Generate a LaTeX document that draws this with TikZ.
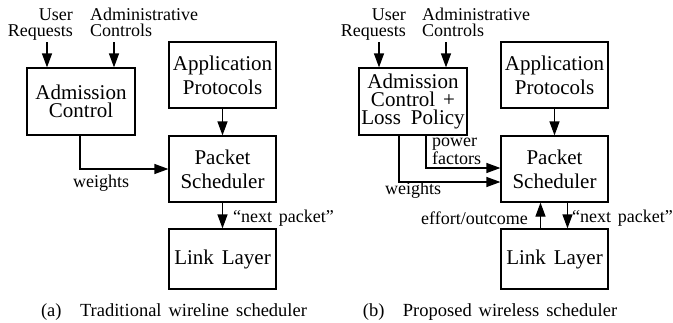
\documentclass[tikz,border=0pt]{standalone}
\usepackage{fontspec}
\setmainfont{Liberation Serif}[WordSpace=1.5]
\usetikzlibrary{arrows.meta}
\begin{document}
\begin{tikzpicture}[x=1pt,y=-1pt,
  box/.style={draw, line width=1.2pt, minimum width=107pt, minimum height=66pt,
    inner sep=0pt, align=center, font=\fontsize{21}{24}\selectfont},
  tight/.style={font=\fontsize{21}{18}\selectfont},
  lbl/.style={inner sep=0pt, font=\fontsize{18}{15.5}\selectfont},
  flow/.style={line width=1.2pt, -{Triangle[length=14pt,width=10pt]}},
  captext/.style={inner sep=0pt, font=\fontsize{18.5}{20}\selectfont},
]
\useasboundingbox (0,0) rectangle (673,322);

% ---------- (a) traditional wireline scheduler ----------
\node[box, tight, minimum width=108pt, minimum height=67pt] (admA) at (81,101.5) {Admission\\Control};
\node[box] (appA) at (222.5,75) {Application\\Protocols};
\node[box] (pktA) at (222.5,169) {Packet\\Scheduler};
\node[box, minimum height=60pt] (linkA) at (222.5,259) {Link\ Layer};

\node[lbl, align=right, anchor=base east] (urA) at (73,36) {User\\Requests};
\node[lbl, align=left, anchor=base west] (acA) at (90,36) {Administrative\\Controls};
\coordinate (urAo) at (47,42);
\coordinate (acAo) at (114,42);
\draw[flow] (urAo) -- (admA.north -| urAo);
\draw[flow] (acAo) -- (admA.north -| acAo);

\draw[flow] (appA) -- (pktA);
\draw[flow] ([xshift=-1pt]admA.south) |- (pktA.west);
\node[lbl, anchor=west] (wA) at (73,183) {weights};
\draw[flow] (pktA) -- (linkA);
\node[lbl, anchor=west] (npA) at (233,218) {“next packet”};

\node[captext] (capA) at (174,312) {(a)\quad Traditional wireline scheduler};

% ---------- (b) proposed wireless scheduler ----------
\node[box, tight, minimum width=108pt, minimum height=67pt] (admB) at (413,101.5)
  {Admission\\Control\hspace{8pt}+\\Loss\hspace{10pt}Policy};
\node[box] (appB) at (554.5,75) {Application\\Protocols};
\node[box] (pktB) at (554.5,169) {Packet\\Scheduler};
\node[box, minimum height=60pt] (linkB) at (554.5,259) {Link\ Layer};

\node[lbl, align=right, anchor=base east] (urB) at (406,36) {User\\Requests};
\node[lbl, align=left, anchor=base west] (acB) at (422,36) {Administrative\\Controls};
\coordinate (urBo) at (379,42);
\coordinate (acBo) at (446,42);
\draw[flow] (urBo) -- (admB.north -| urBo);
\draw[flow] (acBo) -- (admB.north -| acBo);

\draw[flow] (appB) -- (pktB);
\draw[flow] ([xshift=13pt]admB.south) |- ([yshift=1pt]pktB.west);
\draw[flow] ([xshift=-14pt]admB.south) |- ([yshift=-13pt]pktB.west);
\node[lbl, align=left, anchor=base west, font=\fontsize{18}{15}\selectfont] (pfB) at (432,164) {power\\factors};
\node[lbl, anchor=west] (wB) at (385,190) {weights};

\draw[flow] ([xshift=-14pt]linkB.north) -- ([xshift=-14pt]pktB.south);
\draw[flow] ([xshift=13pt]pktB.south) -- ([xshift=13pt]linkB.north);
\node[lbl, anchor=east] (eoB) at (528,218) {effort/outcome};
\node[lbl, anchor=west] (npB) at (572,218) {“next packet”};

\node[captext] (capB) at (490,312) {(b)\quad Proposed wireless scheduler};
\end{tikzpicture}
\end{document}
